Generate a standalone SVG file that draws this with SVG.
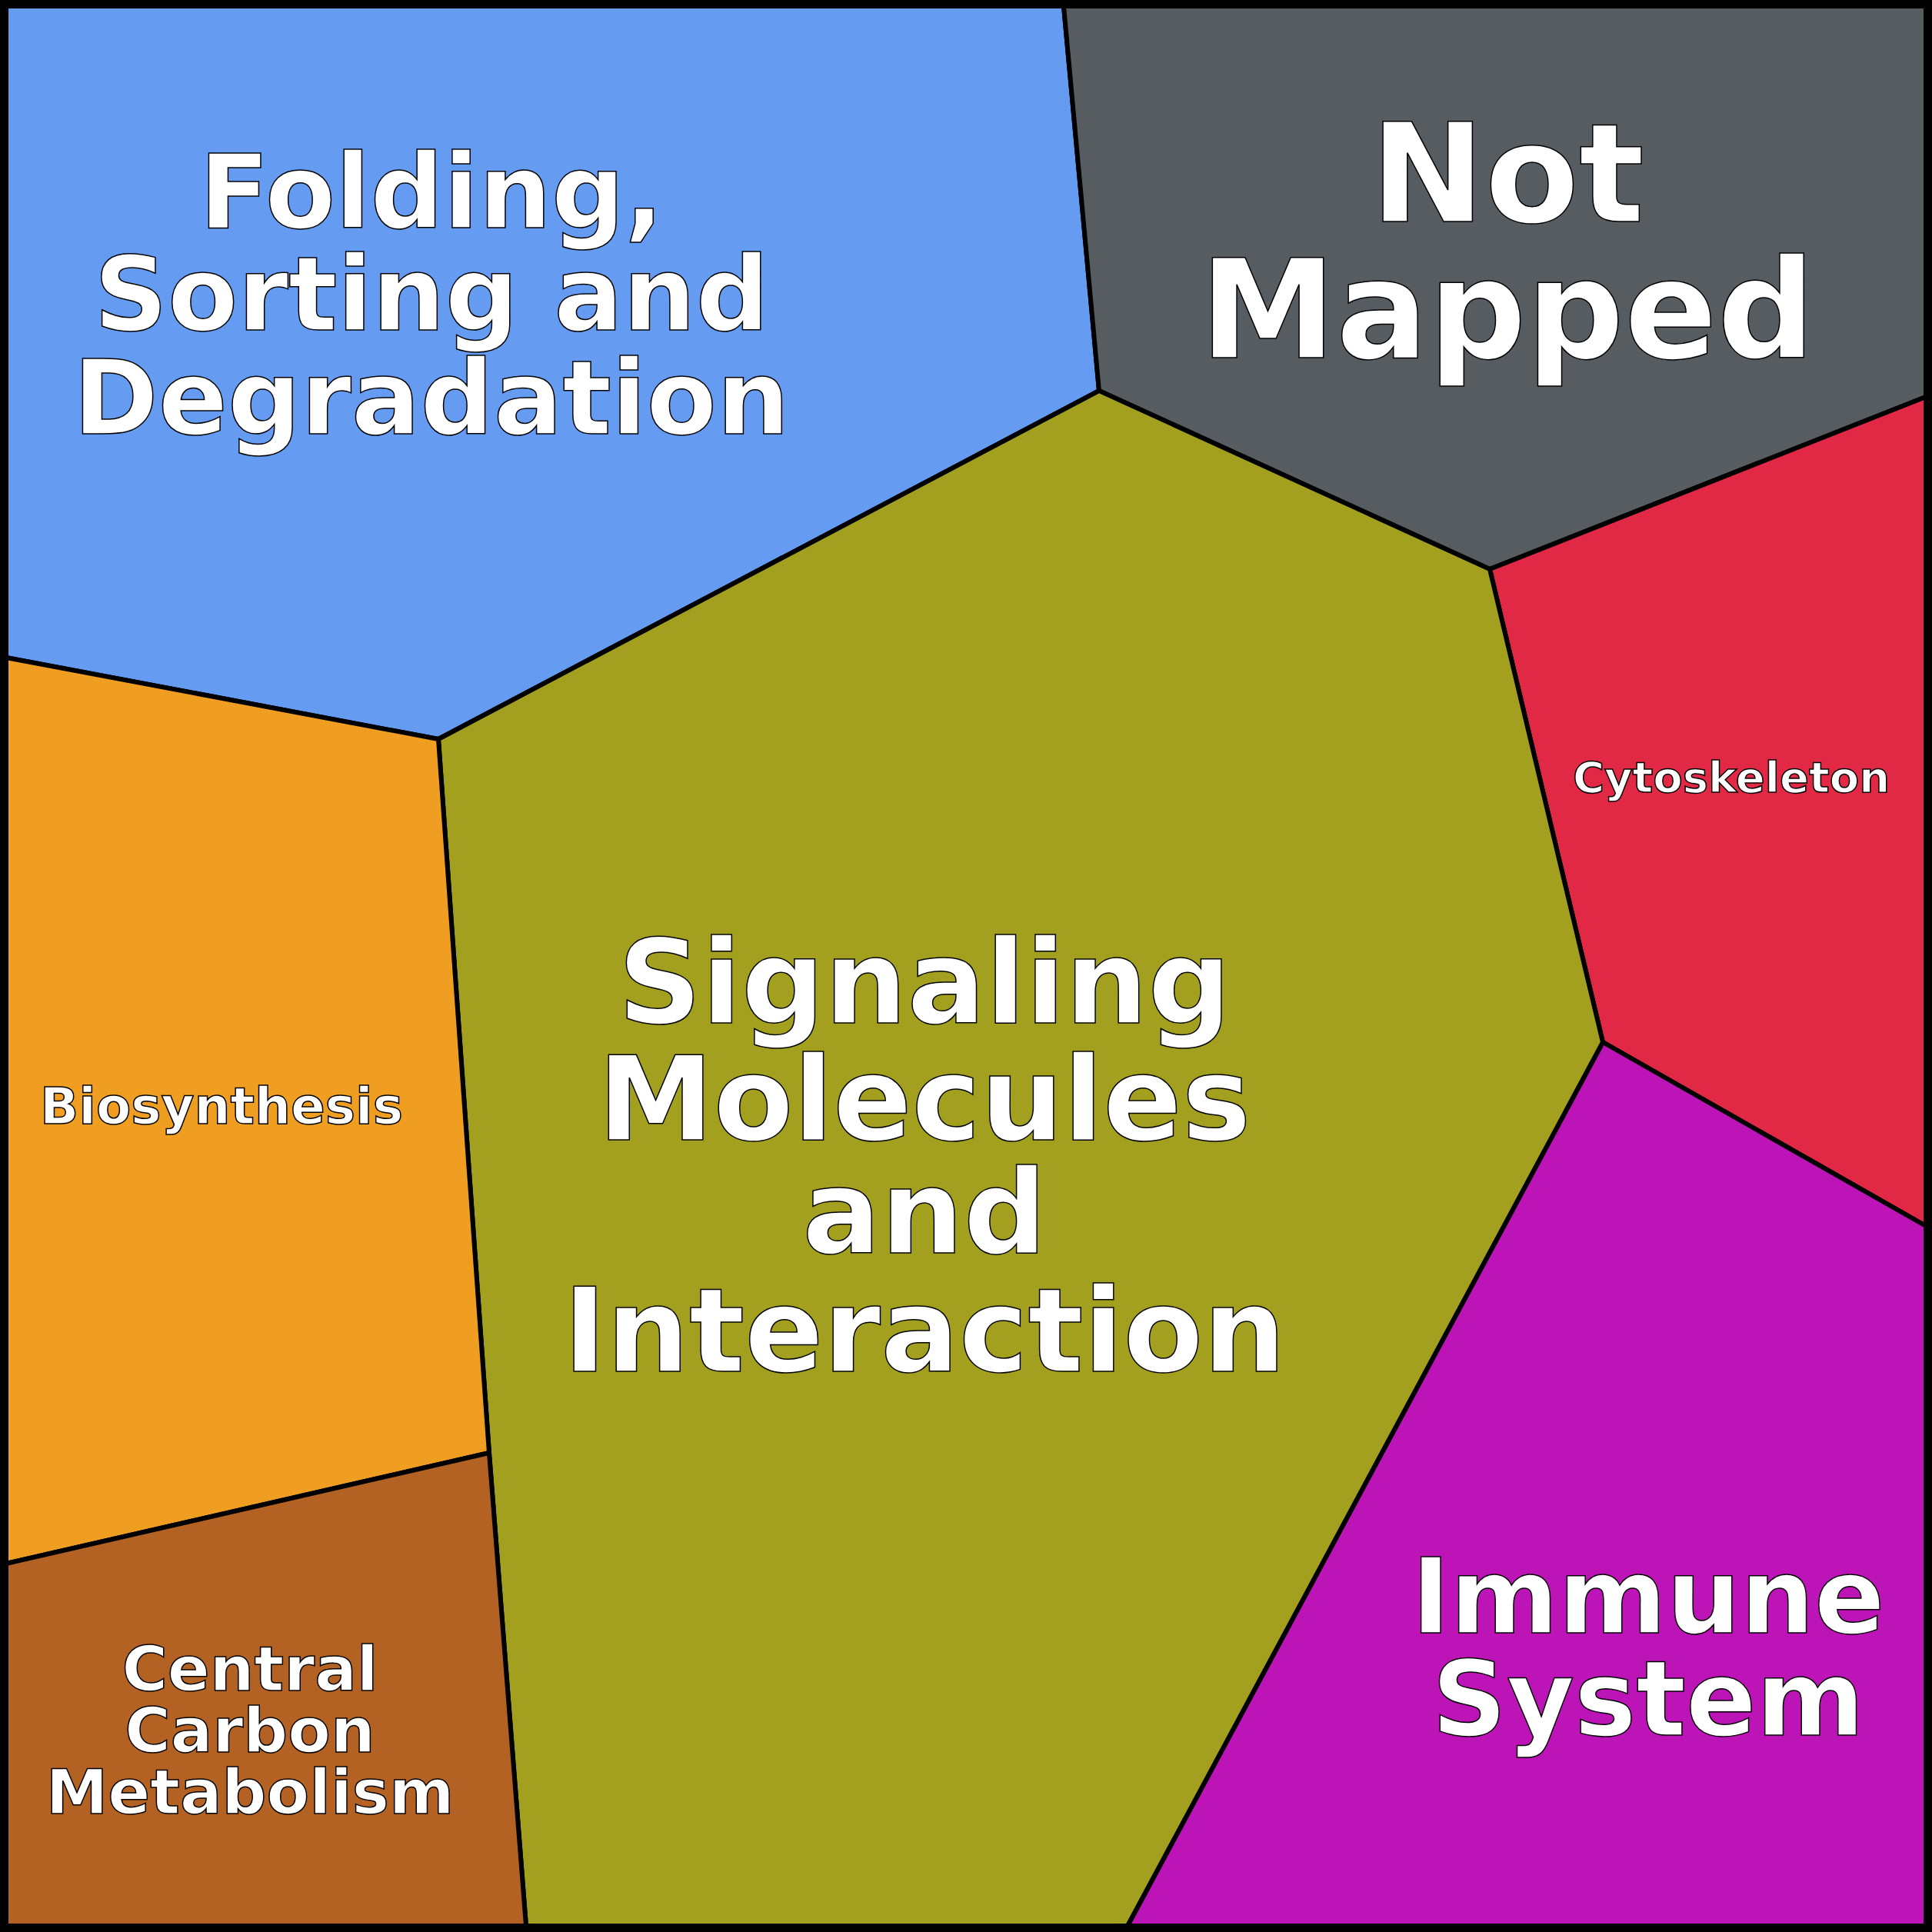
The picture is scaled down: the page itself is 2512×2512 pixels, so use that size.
<svg xmlns="http://www.w3.org/2000/svg" width="2512" height="2512" viewBox="0 0 2512 2512">
<style>
.c{stroke:#000;stroke-width:6;stroke-linejoin:round}
.t{font-family:"DejaVu Sans",sans-serif;font-weight:bold;fill:#fff;stroke:#000;stroke-width:1.5;text-anchor:middle}
</style>
<rect x="0" y="0" width="2512" height="2512" fill="#fff"/>
<g id="folding"><polygon class="c" fill="#659CF2" points="8,8 1383,8 1429,508 570,961 8,855"/>
<text class="t" font-size="133" x="561"><tspan x="561" y="296">Folding,</tspan><tspan x="561" y="429">Sorting and</tspan><tspan x="561" y="564">Degradation</tspan></text></g>
<g id="notmapped"><polygon class="c" fill="#575C61" points="1383,8 2504,8 2504,516 1937,740 1429,508"/>
<text class="t" font-size="178" x="1960"><tspan x="1960" y="288">Not</tspan><tspan x="1960" y="465">Mapped</tspan></text></g>
<g id="cytoskeleton"><polygon class="c" fill="#E12844" points="1937,740 2504,516 2504,1594 2084,1355"/>
<text class="t" font-size="56" x="2251" y="1030">Cytoskeleton</text></g>
<g id="immune"><polygon class="c" fill="#BC14B6" points="2084,1355 2504,1594 2504,2504 1466,2504"/>
<text class="t" font-size="135" x="2143"><tspan x="2143" y="2123">Immune</tspan><tspan x="2143" y="2256">System</tspan></text></g>
<g id="signaling"><polygon class="c" fill="#A3A020" points="570,961 1429,508 1937,740 2084,1355 1466,2504 684,2504 636,1889"/>
<text class="t" font-size="151" x="1202"><tspan x="1202" y="1330">Signaling</tspan><tspan x="1202" y="1482">Molecules</tspan><tspan x="1202" y="1629">and</tspan><tspan x="1202" y="1783">Interaction</tspan></text></g>
<g id="biosynthesis"><polygon class="c" fill="#EF9E21" points="8,855 570,961 636,1889 8,2033"/>
<text class="t" font-size="66" x="288" y="1461">Biosynthesis</text></g>
<g id="central"><polygon class="c" fill="#B46224" points="8,2033 636,1889 684,2504 8,2504"/>
<text class="t" font-size="81" x="325"><tspan x="325" y="2198">Central</tspan><tspan x="325" y="2278">Carbon</tspan><tspan x="325" y="2358">Metabolism</tspan></text></g>
<g id="connectors"/>
<rect x="5" y="5" width="2502" height="2502" fill="none" stroke="#000" stroke-width="10"/>
</svg>
